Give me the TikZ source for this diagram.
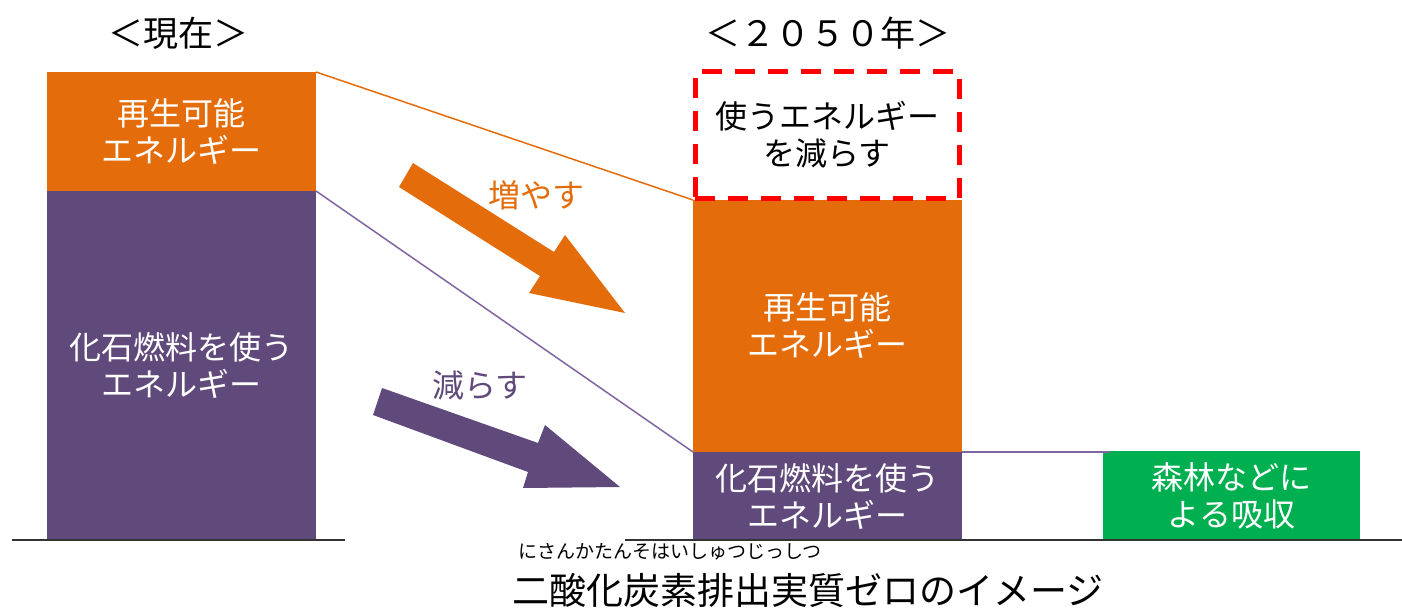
\documentclass[tikz,border=0pt]{standalone}
\usepackage{fontspec}
\setmainfont{Noto Sans CJK JP}
\definecolor{orng}{HTML}{E46C0A}
\definecolor{purp}{HTML}{604A7B}
\definecolor{purpline}{HTML}{8064A2}
\definecolor{grn}{HTML}{00B050}
\definecolor{redd}{HTML}{FF0000}
\begin{document}
\begin{tikzpicture}[x=0.5pt,y=-0.5pt,
  bar/.style={anchor=north west,inner sep=0pt,outer sep=0pt,text=white,align=center,font=\fontsize{16}{18.5}\selectfont},
  thin/.style={line width=0.75pt},
  base/.style={line width=0.8pt,draw=black!80},
  title/.style={font=\fontsize{17.5}{20}\selectfont},
  lbl/.style={font=\fontsize{16}{18.5}\selectfont}]
\useasboundingbox (0,0) rectangle (1402,610);
% titles
\node[title] (t1) at (178,33) {＜現在＞};
\node[title] (t2) at (828,33) {＜２０５０年＞};
% left bars
\node[bar,fill=orng,minimum width=134.5pt,minimum height=59.5pt] (lo) at (47,72) {再生可能\\エネルギー};
\node[bar,fill=purp,minimum width=134.5pt,minimum height=174.5pt] (lp) at (47,191) {化石燃料を使う\\エネルギー};
% right bars
\node[bar,fill=orng,minimum width=134.5pt,minimum height=126pt] (ro) at (693,200) {再生可能\\エネルギー};
\node[bar,fill=purp,minimum width=134.5pt,minimum height=44pt] (rp) at (693,452) {化石燃料を使う\\エネルギー};
\node[bar,fill=grn,minimum width=128.5pt,minimum height=44.5pt] (gr) at (1103,451) {森林などに\\よる吸収};
\node[bar,text=black,draw=redd,line width=2.5pt,dash pattern=on 10pt off 6.5pt,minimum width=132pt,minimum height=63pt] (rd) at (695,72) {使うエネルギー\\を減らす};
% baselines
\coordinate (b1) at (12,540);
\coordinate (b2) at (345,540);
\coordinate (b3) at (625,540);
\coordinate (b4) at (1402,540);
\draw[base] (b1) -- (b2);
\draw[base] (b3) -- (b4);
% connector lines
\draw[thin,orng] (lo.north east) -- (ro.north west);
\draw[thin,purpline] (lp.north east) -- (rp.north west);
\coordinate (ge) at (1110,452);
\draw[thin,purpline] (rp.north east) -- (ge);
% block arrows
\fill[orng] (399,187) -- (413,163) -- (554,252) -- (565,235) -- (625,313) -- (529,293) -- (540,276) -- cycle;
\fill[purp] (373,415) -- (382,388) -- (538,443) -- (545,425) -- (620,487) -- (523,488) -- (528,472) -- cycle;
\node[lbl,text=orng] (inc) at (536,195) {増やす};
\node[lbl,text=purp] (dec) at (480,385) {減らす};
% caption
\node[font=\fontsize{9.5}{10}\selectfont] (ruby) at (670,552) {にさんかたんそはいしゅつじっしつ};
\node[font=\fontsize{18.5}{20}\selectfont] (cap) at (808,590) {二酸化炭素排出実質ゼロのイメージ};
\end{tikzpicture}
\end{document}
